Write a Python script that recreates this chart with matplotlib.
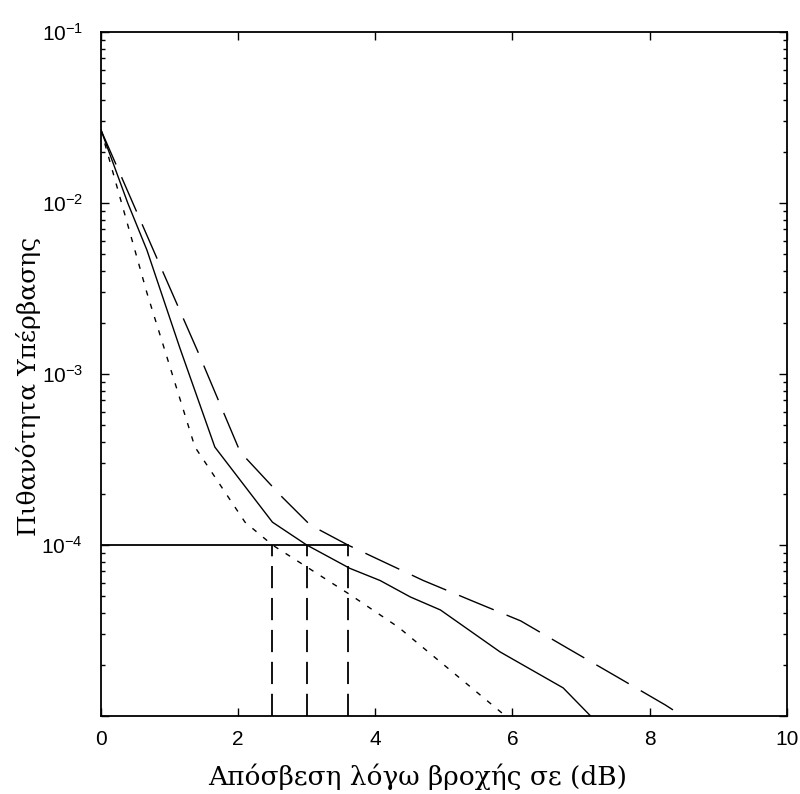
import matplotlib
matplotlib.use("Agg")
import matplotlib.pyplot as plt
import numpy as np
from matplotlib.ticker import FixedLocator, LogLocator, NullFormatter

plt.rcParams['font.family'] = ['Liberation Sans', 'DejaVu Sans']
plt.rcParams['mathtext.default'] = 'regular'
plt.rcParams['lines.scale_dashes'] = False

# ---- data ----
x_solid = [0, 0.39, 0.67, 1.15, 1.66, 2.50, 3.0, 3.63, 4.07, 4.51, 4.95, 5.82, 6.74, 7.14]
y_solid = [2.67e-2, 1.0e-2, 5.3e-3, 1.42e-3, 3.74e-4, 1.36e-4, 1.0e-4, 7.3e-5,
           6.2e-5, 4.97e-5, 4.17e-5, 2.37e-5, 1.46e-5, 1.0e-5]

x_dash = [0, 0.89, 1.42, 2.03, 2.64, 3.05, 3.6, 4.0, 4.70, 5.42, 6.12, 6.82, 7.53, 8.23, 8.48]
y_dash = [2.67e-2, 4.06e-3, 1.33e-3, 3.5e-4, 1.91e-4, 1.31e-4, 1.0e-4, 8.4e-5,
          6.2e-5, 4.7e-5, 3.6e-5, 2.47e-5, 1.69e-5, 1.16e-5, 1.0e-5]

x_dot = [0, 0.67, 1.37, 2.10, 2.5, 3.64, 4.34, 5.90]
y_dot = [2.67e-2, 2.98e-3, 3.74e-4, 1.36e-4, 1.0e-4, 5.1e-5, 3.3e-5, 1.0e-5]

p_ref = 1e-4
x_cross = [2.5, 3.0, 3.6]

xticks = [0, 2, 4, 6, 8, 10]
yticks = [1e-4, 1e-3, 1e-2, 1e-1]
ytick_labels = [r'$\mathregular{10^{-4}}$', r'$\mathregular{10^{-3}}$',
                r'$\mathregular{10^{-2}}$', r'$\mathregular{10^{-1}}$']
xlabel = 'Απόσβεση λόγω βροχής σε (dB)'
ylabel = 'Πιθανότητα Υπέρβασης'

fig = plt.figure(figsize=(8, 7.94), dpi=100)
ax = fig.add_axes([101/800, 1-716/794, (786.7-101)/800, (716-32)/794])

ax.plot(x_solid, y_solid, color='black', lw=1.0)
ax.plot(x_dash, y_dash, color='black', lw=1.0, dashes=(27, 10))
ax.plot(x_dot, y_dot, color='black', lw=1.0, dashes=(3.8, 6.2))

ax.plot([0, x_cross[-1]], [p_ref, p_ref], color='black', lw=1.3)
for xc in x_cross:
    ax.plot([xc, xc], [1e-5, p_ref], color='black', lw=1.3, dashes=(16, 7))

ax.set_yscale('log')
ax.set_xlim(0, 10)
ax.set_ylim(1e-5, 1e-1)
ax.set_xticks(xticks)
ax.set_xticklabels([str(t) for t in xticks])
ax.yaxis.set_major_locator(FixedLocator(yticks + [1e-5]))
ax.set_yticklabels(ytick_labels + [''])
ax.yaxis.set_minor_locator(LogLocator(base=10, subs=np.arange(2, 10)))
ax.yaxis.set_minor_formatter(NullFormatter())

ax.tick_params(which='both', direction='in', top=True, right=True, width=1.0, color='black')
ax.tick_params(which='major', length=6)
ax.tick_params(which='minor', length=3)
ax.tick_params(axis='x', labelsize=15, pad=10)
ax.tick_params(axis='y', labelsize=15, pad=13)
for s in ax.spines.values():
    s.set_linewidth(1.3)

fig.text(418/800, 1-785/794, xlabel, ha='center', va='baseline',
         family=['DejaVu Serif'], fontsize=19)
fig.text(36/800, 1-386/794, ylabel, ha='center', va='baseline', rotation=90,
         rotation_mode='anchor', family=['DejaVu Serif'], fontsize=18)

fig.savefig('out.png', dpi=100)
